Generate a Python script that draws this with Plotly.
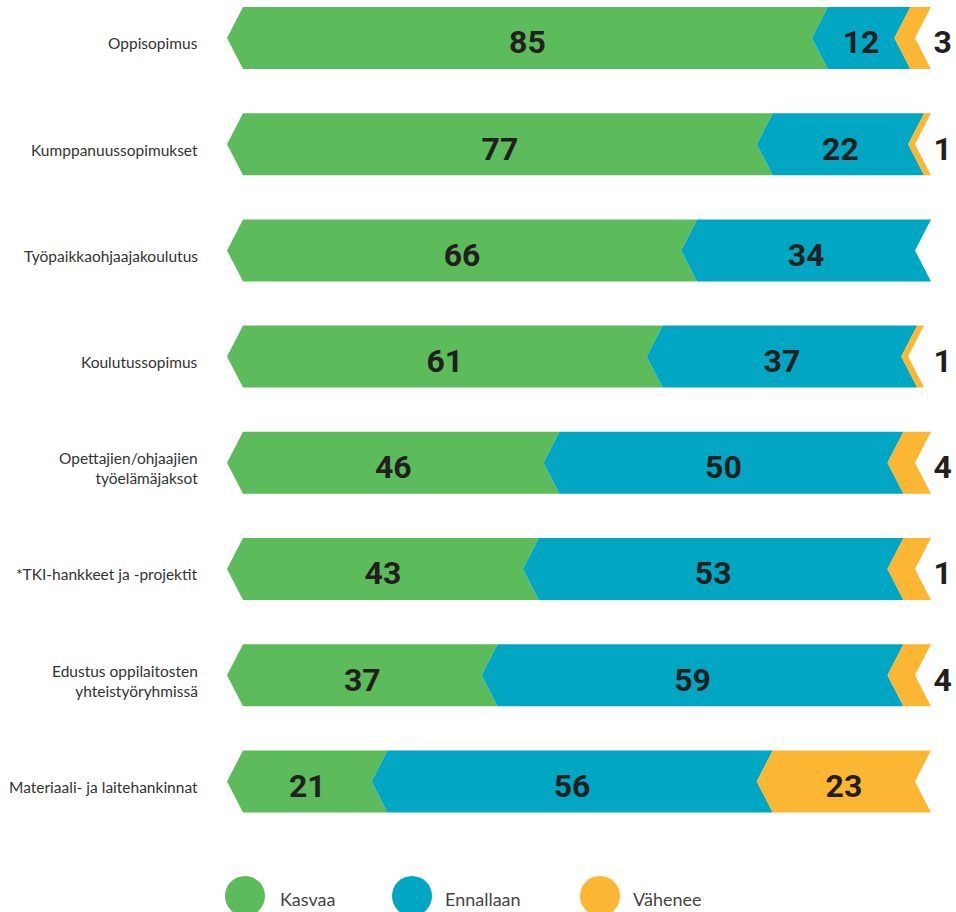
import plotly.graph_objects as go

# ---- data ----
categories = [
    "Oppisopimus",
    "Kumppanuussopimukset",
    "Työpaikkaohjaajakoulutus",
    "Koulutussopimus",
    "Opettajien/ohjaajien<br>työelämäjaksot",
    "*TKI-hankkeet ja -projektit",
    "Edustus oppilaitosten<br>yhteistyöryhmissä",
    "Materiaali- ja laitehankinnat",
]
kasvaa = [85, 77, 66, 61, 46, 43, 37, 21]
ennallaan = [12, 22, 34, 37, 50, 53, 59, 56]
vahenee = [3, 1, 0, 1, 4, 4, 4, 23]          # widths as drawn
vahenee_text = ["3", "1", "", "1", "4", "1", "4", "23"]  # labels as printed
series_names = ["Kasvaa", "Ennallaan", "Vähenee"]
colors = ["#5CBB5A", "#00A6C2", "#FBB733"]

# ---- geometry / style constants ----
W, H = 956, 912
X0_PX, PX_PER_UNIT = 243, 6.88
ROW0_PX, ROW_STEP_PX = 38, 106.2
NOTCH = 16 / PX_PER_UNIT      # chevron depth in x units
HALF = 31 / ROW_STEP_PX       # half bar height in y units

x_range = [-X0_PX / PX_PER_UNIT, (W - X0_PX) / PX_PER_UNIT]
y_range = [(H - ROW0_PX) / ROW_STEP_PX, -ROW0_PX / ROW_STEP_PX]

VALUE_FONT = "Roboto, Liberation Sans, sans-serif"
LABEL_FONT = "Lato, Roboto, sans-serif"

fig = go.Figure()

series = [kasvaa, ennallaan, vahenee]
starts = [[0] * len(categories) for _ in series]
for s in range(1, len(series)):
    for i in range(len(categories)):
        starts[s][i] = starts[s - 1][i] + series[s - 1][i]

for s, vals in enumerate(series):
    xs, ys = [], []
    for i, v in enumerate(vals):
        if v <= 0:
            continue
        a = starts[s][i]
        b = a + v
        xs += [a, b, b - NOTCH, b, a, a - NOTCH, a, None]
        ys += [i - HALF, i - HALF, i, i + HALF, i + HALF, i, i - HALF, None]
    fig.add_trace(go.Scatter(
        x=xs, y=ys, mode="lines", fill="toself", fillcolor=colors[s],
        line=dict(width=0, color=colors[s]), hoverinfo="skip",
        name=series_names[s], showlegend=False,
    ))

# value labels
tx, ty, tt = [], [], []
for s, vals in enumerate(series):
    for i, v in enumerate(vals):
        if v <= 0:
            continue
        label = vahenee_text[i] if s == 2 else str(v)
        if s == 2 and v < 10:
            xpos = 100 + 1.7
        else:
            xpos = starts[s][i] + v / 2 - NOTCH / 2
        tx.append(xpos)
        ty.append(i + 0.07)
        tt.append(label)
fig.add_trace(go.Scatter(
    x=tx, y=ty, text=tt, mode="text", hoverinfo="skip", showlegend=False,
    textfont=dict(family=VALUE_FONT, size=32, color="#231F20", weight="bold"),
))

# category labels
for i, c in enumerate(categories):
    fig.add_annotation(
        x=200 / W, xref="paper", y=i + 0.05, yref="y", text=c,
        xanchor="right", yanchor="middle", align="right", showarrow=False,
        font=dict(family=LABEL_FONT, size=15.5, color="#333333"),
    )

# legend (circles + text)
leg_cx = [245, 412, 600]
leg_tx = [278, 443, 631]
for k in range(3):
    fig.add_shape(
        type="circle", xref="paper", yref="paper",
        x0=(leg_cx[k] - 20) / W, x1=(leg_cx[k] + 20) / W,
        y0=(H - 916) / H, y1=(H - 876) / H,
        fillcolor=colors[k], line=dict(width=0),
    )
    fig.add_annotation(
        x=leg_tx[k] / W, xref="paper", y=(H - 899) / H, yref="paper",
        text=series_names[k], xanchor="left", yanchor="middle", showarrow=False,
        font=dict(family=LABEL_FONT, size=18, color="#444444"),
    )

fig.update_layout(
    width=W, height=H, margin=dict(l=0, r=0, t=0, b=0),
    paper_bgcolor="white", plot_bgcolor="white",
    xaxis=dict(range=x_range, visible=False, fixedrange=True),
    yaxis=dict(range=y_range, visible=False, fixedrange=True),
    hovermode=False, showlegend=False,
)

fig.write_html(
    "out.html",
    config={"displayModeBar": False, "staticPlot": True},
    post_script="document.body.style.margin='0';document.body.style.overflow='hidden';",
)
